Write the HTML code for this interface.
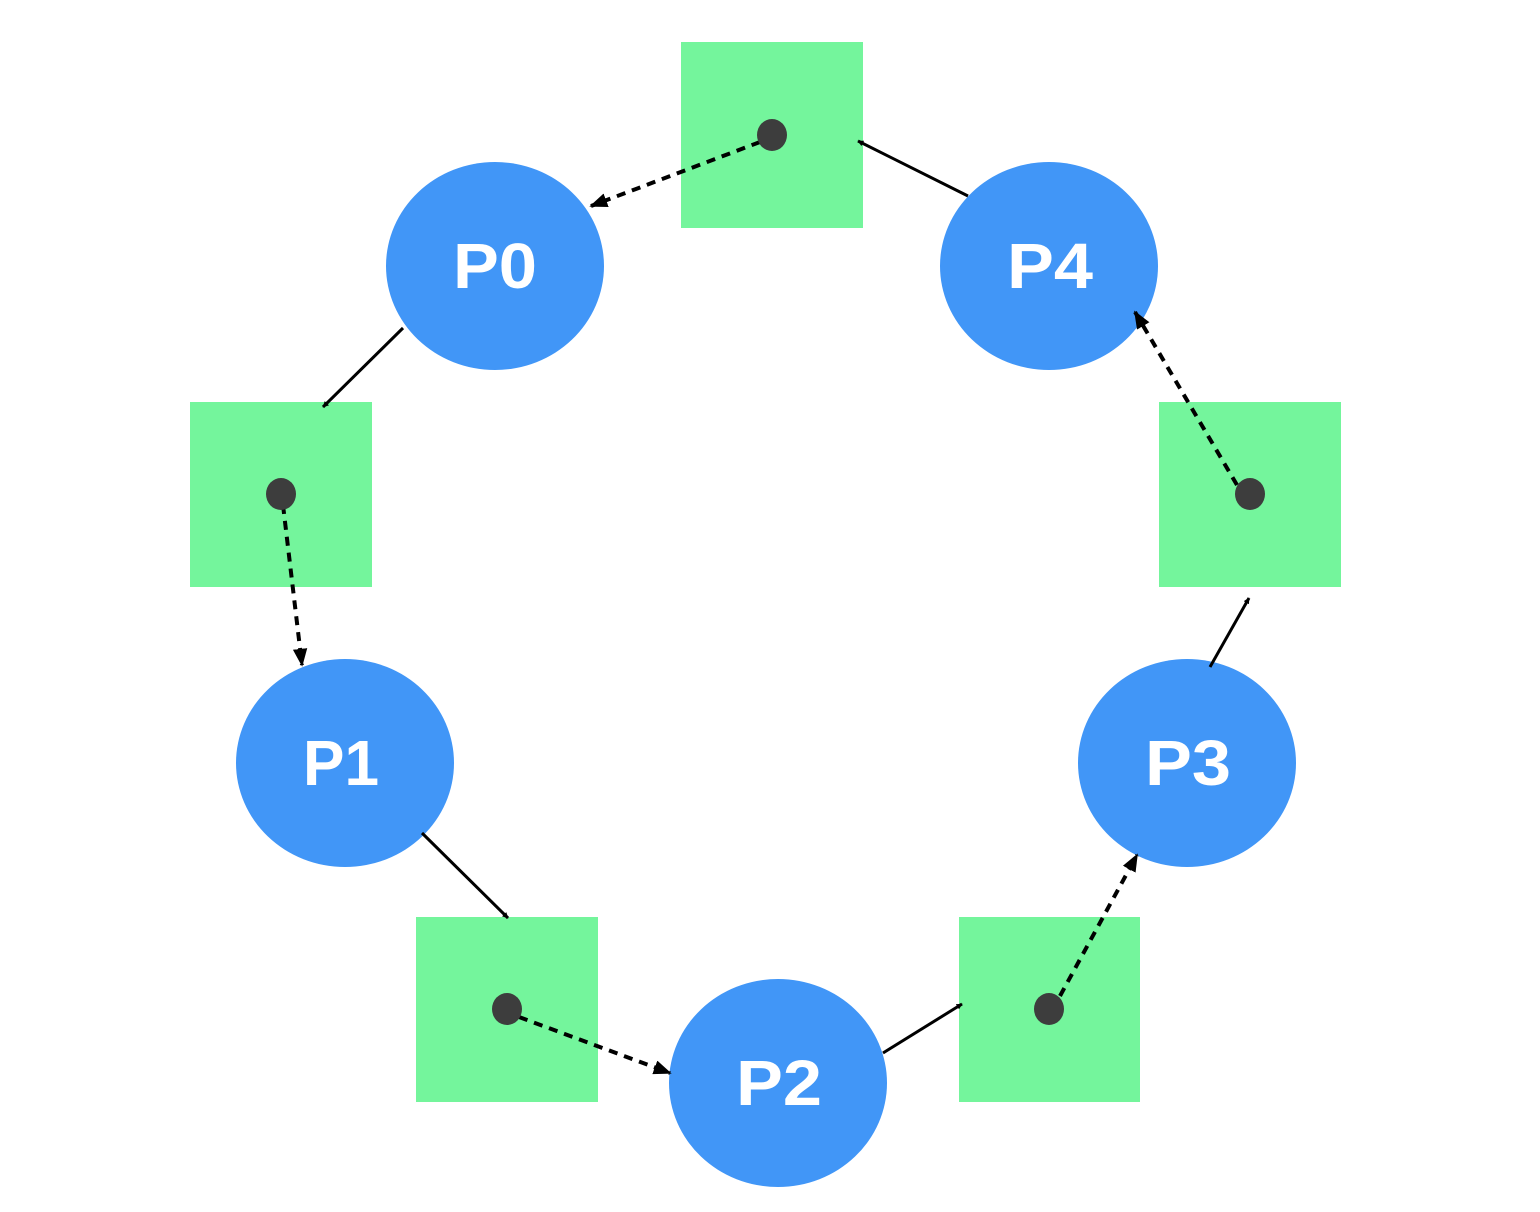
<!DOCTYPE html>
<html><head><style>html,body{margin:0;padding:0;background:#fff}svg{display:block}</style></head><body>
<svg width="1540" height="1212" viewBox="0 0 1540 1212" xmlns="http://www.w3.org/2000/svg">
<defs>
<marker id="a" viewBox="0 0 10 10" refX="9" refY="5" markerWidth="6" markerHeight="6" orient="auto" markerUnits="userSpaceOnUse"><path d="M0,0 L10,5 L0,10 z" fill="#000"/></marker>
<marker id="b" viewBox="0 0 10 10" refX="9" refY="5" markerWidth="18" markerHeight="18" orient="auto" markerUnits="userSpaceOnUse"><path d="M0,1 L10,5 L0,9 z" fill="#000"/></marker>
</defs>
<g fill="#74f59c">
<rect x="681" y="42" width="182" height="186"/>
<rect x="190" y="402" width="182" height="185"/>
<rect x="1159" y="402" width="182" height="185"/>
<rect x="416" y="917" width="182" height="185"/>
<rect x="959" y="917" width="181" height="185"/>
</g>
<g fill="#4196f7">
<ellipse cx="495" cy="266" rx="109" ry="104"/>
<ellipse cx="1049" cy="266" rx="109" ry="104"/>
<ellipse cx="345" cy="763" rx="109" ry="104"/>
<ellipse cx="1187" cy="763" rx="109" ry="104"/>
<ellipse cx="778" cy="1083" rx="109" ry="104"/>
</g>
<g fill="#fff" font-family="Liberation Sans, sans-serif" font-weight="bold" font-size="64">
<text x="453" y="288" textLength="84" lengthAdjust="spacingAndGlyphs">P0</text>
<text x="1007" y="288" textLength="86" lengthAdjust="spacingAndGlyphs">P4</text>
<text x="303" y="785" textLength="76" lengthAdjust="spacingAndGlyphs">P1</text>
<text x="1145" y="785" textLength="86" lengthAdjust="spacingAndGlyphs">P3</text>
<text x="736" y="1105" textLength="86" lengthAdjust="spacingAndGlyphs">P2</text>
</g>
<g stroke="#000" stroke-width="3" fill="none" marker-end="url(#a)">
<line x1="968" y1="196" x2="858" y2="141"/>
<line x1="403" y1="328" x2="323" y2="407"/>
<line x1="422" y1="833" x2="508" y2="918"/>
<line x1="883" y1="1053" x2="962" y2="1004"/>
<line x1="1210" y1="667" x2="1249" y2="598"/>
</g>
<g stroke="#000" stroke-width="4" fill="none" stroke-dasharray="9,7" marker-end="url(#b)">
<line x1="760" y1="142" x2="591" y2="206"/>
<line x1="283" y1="505" x2="302" y2="665"/>
<line x1="519" y1="1017" x2="670" y2="1073"/>
<line x1="1060" y1="996" x2="1137" y2="855"/>
<line x1="1237" y1="485" x2="1135" y2="312"/>
</g>
<g fill="#3d3d3d">
<ellipse cx="772" cy="135" rx="15" ry="16"/>
<ellipse cx="281" cy="494" rx="15" ry="16"/>
<ellipse cx="1250" cy="494" rx="15" ry="16"/>
<ellipse cx="507" cy="1009" rx="15" ry="16"/>
<ellipse cx="1049" cy="1009" rx="15" ry="16"/>
</g>
</svg>
</body></html>
